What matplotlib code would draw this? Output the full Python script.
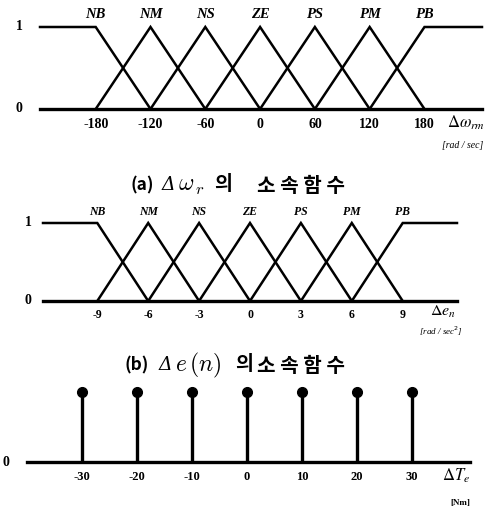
import matplotlib
matplotlib.use("Agg")
import matplotlib.pyplot as plt

W, H = 487, 509

# ---- data ----
labels = ["NB", "NM", "NS", "ZE", "PS", "PM", "PB"]
centers_a = [-180, -120, -60, 0, 60, 120, 180]
centers_b = [-9, -6, -3, 0, 3, 6, 9]
singletons_c = [-30, -20, -10, 0, 10, 20, 30]
heights_c = [1, 1, 1, 1, 1, 1, 1]
yticks = [0, 1]

fig = plt.figure(figsize=(W / 100, H / 100), dpi=100)

serif = ["Liberation Serif", "DejaVu Serif"]
kr = ["Noto Sans CJK KR", "DejaVu Sans"]


def make_axes(L, R, p1, p0, top, bottom, xlim):
    ax = fig.add_axes([L / W, 1 - bottom / H, (R - L) / W, (bottom - top) / H])
    ax.set_xlim(*xlim)
    span = p0 - p1
    ax.set_ylim(-(bottom - p0) / span, 1 + (p1 - top) / span)
    ax.axis("off")
    ypx = lambda py: (p0 - py) / span
    return ax, ypx


def mf_panel(ax, ypx, centers, xlim, tick_fs, lab_fs, lab_py, tick_py):
    step = centers[1] - centers[0]
    lw = 1.8
    for i, c in enumerate(centers):
        if i == 0:
            xs, ys = [xlim[0], c, c + step], [1, 1, 0]
        elif i == len(centers) - 1:
            xs, ys = [c - step, c, xlim[1]], [0, 1, 1]
        else:
            xs, ys = [c - step, c, c + step], [0, 1, 0]
        ax.plot(xs, ys, color="black", lw=lw, solid_joinstyle="miter", clip_on=False)
        ax.text(c, ypx(lab_py), labels[i], ha="center", va="center",
                family=serif, style="italic", fontsize=lab_fs, fontweight="bold")
        ax.text(c, ypx(tick_py), str(c), ha="center", va="center",
                family=serif, fontsize=tick_fs, fontweight="bold")
    ax.plot(xlim, [0, 0], color="black", lw=2.4, clip_on=False)


def caption(py, tag, math, x_tag, x_delta, x_math, x_ui, x_rest):
    fig.text(x_tag / W, 1 - py / H, tag, ha="left", va="center", family=kr,
             fontsize=12.5, fontweight="bold")
    fig.text(x_delta / W, 1 - py / H, "Δ", ha="left", va="center",
             family=["DejaVu Serif"], style="italic", fontsize=13.5)
    fig.text(x_math / W, 1 - py / H, math, ha="left", va="center",
             fontsize=17, math_fontfamily="cm")
    fig.text(x_ui / W, 1 - py / H, "의", ha="left", va="center", family=kr,
             fontsize=14, fontweight="bold")
    fig.text(x_rest / W, 1 - py / H, "소 속 함 수", ha="left", va="center", family=kr,
             fontsize=14.5, fontweight="bold")


# ---- panel (a) ----
xa = (-241, 243)
ax1, y1 = make_axes(40, 482, 27, 109, 5, 150, xa)
mf_panel(ax1, y1, centers_a, xa, 10, 10.5, 15, 124)
for v in yticks:
    fig.text(19 / W, 1 - (109 - v * 82) / H, str(v), ha="center", va="center",
             family=serif, fontsize=10, fontweight="bold")
fig.text(466 / W, 1 - 123 / H, r"$\Delta\omega_{rm}$", ha="center", va="center",
         fontsize=12, math_fontfamily="stix")
fig.text(463 / W, 1 - 146 / H, "[rad / sec]", ha="center", va="center",
         family=serif, style="italic", fontsize=7)
caption(185, "(a)", r"$\omega_{\,r}$", 131, 162, 178, 214, 257)

# ---- panel (b) ----
xb = (-12.2, 12.2)
ax2, y2 = make_axes(43, 457, 223, 301, 205, 335, xb)
mf_panel(ax2, y2, centers_b, xb, 8.5, 8.5, 212, 315)
for v in yticks:
    fig.text(28 / W, 1 - (301 - v * 78) / H, str(v), ha="center", va="center",
             family=serif, fontsize=10, fontweight="bold")
fig.text(443 / W, 1 - 312 / H, r"$\Delta e_{n}$", ha="center", va="center",
         fontsize=11.5, math_fontfamily="stix")
fig.text(441 / W, 1 - 331 / H, r"[rad / sec$^{2}$]", ha="center", va="center",
         family=serif, style="italic", fontsize=6.5)
caption(365, "(b)", r"$e\,(n)$", 124, 159, 175, 235, 257)

# ---- panel (c) ----
xc = (-40, 40.5)
ax3, y3 = make_axes(27, 470, 392, 462, 380, 500, xc)
ml, sl, bl = ax3.stem(singletons_c, heights_c, linefmt="k-", markerfmt="ko", basefmt=" ")
plt.setp(sl, linewidth=2.4)
plt.setp(ml, markersize=7)
ax3.plot(xc, [0, 0], color="black", lw=2.4, clip_on=False)
for v in singletons_c:
    ax3.text(v, y3(477), str(v), ha="center", va="center", family=serif,
             fontsize=9, fontweight="bold")
fig.text(6 / W, 1 - 462 / H, "0", ha="center", va="center", family=serif,
         fontsize=10, fontweight="bold")
fig.text(456 / W, 1 - 476 / H, r"$\Delta T_{e}$", ha="center", va="center",
         fontsize=12, math_fontfamily="stix")
fig.text(460 / W, 1 - 503 / H, "[Nm]", ha="center", va="center",
         family=serif, fontsize=6.5, fontweight="bold")

fig.savefig("out.png", dpi=100)
